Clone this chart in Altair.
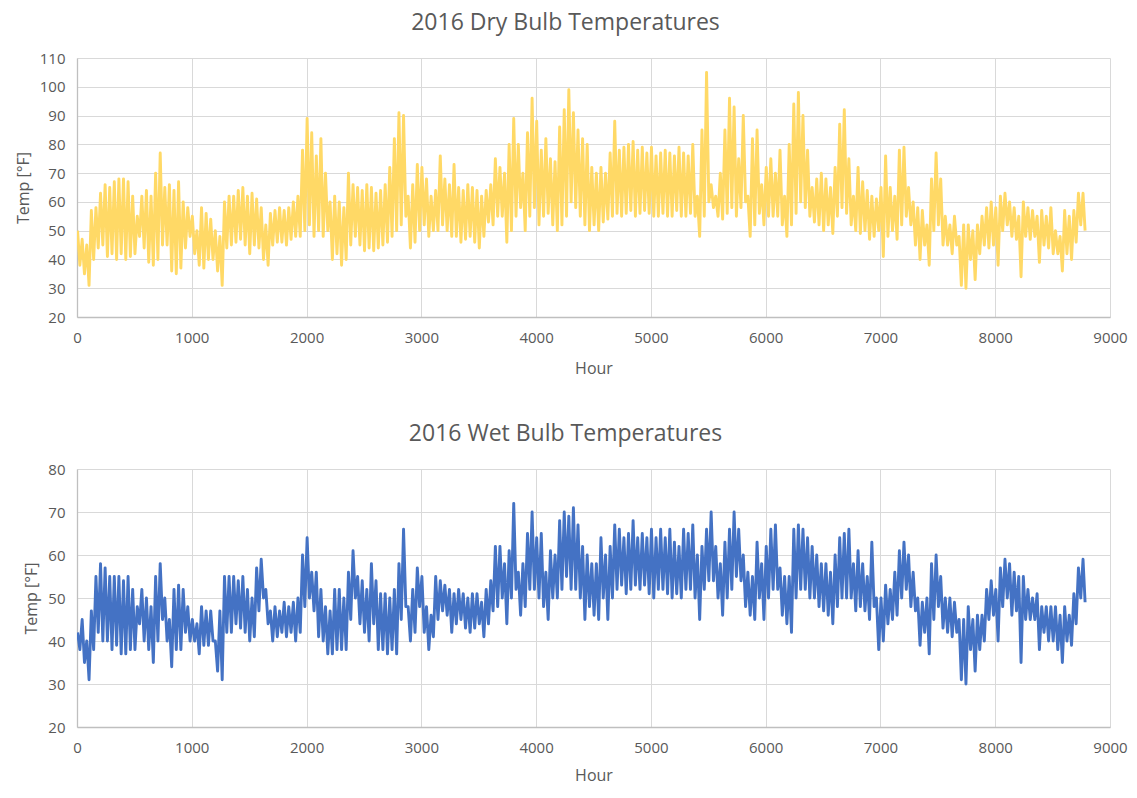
import altair as alt
import pandas as pd

# Band: for each 40-hour window (starting at hour 0, 40, 80, ...)
# the upper and lower temperature of the hourly trace [°F].
window_start = list(range(0, 8761, 40))

dry_hi = [
    50, 47, 45, 57, 58, 63, 66, 65, 67, 68,
    68, 67, 62, 55, 62, 64, 62, 70, 77, 65,
    66, 64, 67, 60, 58, 55, 50, 58, 56, 54,
    50, 48, 60, 62, 62, 64, 65, 62, 63, 61,
    58, 52, 56, 57, 58, 57, 58, 60, 62, 78,
    89, 84, 76, 82, 70, 60, 62, 60, 58, 70,
    66, 65, 64, 66, 65, 63, 64, 66, 72, 82,
    91, 90, 62, 66, 73, 72, 68, 62, 64, 76,
    68, 66, 73, 65, 64, 66, 65, 64, 62, 64,
    66, 75, 72, 70, 80, 89, 80, 70, 84, 96,
    88, 78, 82, 75, 74, 86, 92, 99, 91, 85,
    82, 80, 72, 70, 72, 70, 77, 88, 78, 79,
    80, 81, 78, 79, 77, 79, 76, 77, 78, 77,
    76, 79, 77, 76, 80, 62, 85, 105, 66, 62,
    70, 85, 96, 93, 75, 90, 62, 82, 85, 66,
    72, 75, 70, 78, 62, 80, 94, 98, 90, 78,
    65, 68, 70, 68, 65, 72, 87, 92, 75, 62,
    72, 67, 64, 62, 61, 65, 76, 65, 62, 78,
    79, 65, 60, 58, 57, 52, 68, 77, 68, 55,
    52, 55, 48, 52, 52, 50, 52, 55, 58, 60,
    58, 62, 63, 60, 58, 55, 60, 58, 57, 55,
    57, 55, 58, 50, 48, 57, 55, 57, 63, 63,
]
dry_lo = [
    38, 35, 31, 40, 44, 45, 41, 42, 40, 42,
    40, 41, 42, 48, 44, 39, 38, 40, 45, 45,
    36, 35, 37, 44, 48, 42, 38, 37, 40, 40,
    36, 31, 44, 45, 46, 47, 45, 42, 45, 44,
    40, 38, 45, 46, 46, 45, 47, 48, 48, 50,
    52, 48, 50, 48, 50, 40, 42, 38, 40, 45,
    48, 45, 43, 44, 43, 44, 45, 46, 48, 50,
    52, 55, 44, 46, 50, 52, 48, 50, 50, 52,
    50, 48, 48, 46, 47, 48, 46, 44, 48, 53,
    52, 55, 55, 46, 50, 55, 58, 50, 55, 58,
    52, 55, 56, 52, 50, 52, 55, 60, 58, 55,
    52, 50, 52, 50, 53, 54, 55, 56, 55, 56,
    57, 55, 56, 57, 56, 55, 55, 56, 55, 55,
    57, 55, 55, 56, 55, 48, 55, 60, 58, 55,
    54, 56, 58, 55, 58, 60, 48, 52, 56, 52,
    55, 55, 55, 52, 48, 52, 56, 60, 58, 55,
    53, 52, 50, 52, 49, 55, 58, 56, 52, 50,
    49, 50, 47, 48, 50, 41, 48, 50, 47, 52,
    55, 52, 45, 40, 45, 38, 50, 52, 45, 45,
    42, 45, 31, 30, 40, 33, 42, 45, 44, 45,
    38, 50, 52, 48, 47, 34, 48, 47, 48, 39,
    45, 44, 42, 42, 36, 42, 40, 46, 52, 50,
]

wet_hi = [
    42, 45, 40, 47, 55, 58, 57, 55, 55, 55,
    54, 55, 52, 48, 52, 50, 48, 55, 58, 50,
    45, 52, 53, 52, 48, 45, 44, 48, 47, 47,
    40, 47, 55, 55, 55, 54, 55, 52, 50, 57,
    59, 52, 47, 48, 47, 49, 48, 49, 50, 60,
    64, 56, 56, 52, 48, 47, 52, 52, 50, 56,
    61, 55, 54, 52, 58, 54, 51, 51, 50, 52,
    58, 66, 48, 52, 57, 55, 48, 46, 55, 54,
    53, 52, 51, 52, 51, 50, 51, 51, 49, 52,
    54, 62, 62, 58, 61, 72, 56, 58, 65, 70,
    64, 65, 56, 61, 60, 68, 70, 69, 71, 67,
    62, 60, 58, 58, 64, 60, 62, 67, 66, 64,
    65, 68, 64, 65, 64, 66, 64, 66, 64, 66,
    63, 62, 66, 65, 67, 60, 62, 66, 70, 62,
    58, 63, 66, 70, 66, 60, 56, 55, 63, 58,
    62, 66, 67, 57, 55, 55, 66, 67, 66, 64,
    62, 60, 58, 58, 56, 60, 64, 65, 66, 58,
    61, 58, 55, 63, 50, 50, 53, 52, 56, 61,
    63, 60, 56, 50, 49, 50, 58, 60, 55, 50,
    50, 49, 45, 45, 48, 45, 46, 46, 52, 54,
    52, 57, 59, 58, 56, 55, 55, 52, 50, 51,
    48, 48, 48, 48, 46, 48, 46, 51, 57, 59,
]
wet_lo = [
    38, 35, 31, 38, 42, 40, 40, 38, 39, 37,
    37, 38, 38, 44, 40, 38, 35, 40, 45, 40,
    34, 38, 38, 42, 40, 40, 37, 39, 39, 40,
    33, 31, 42, 42, 44, 43, 42, 40, 41, 47,
    50, 44, 40, 41, 42, 41, 42, 40, 42, 48,
    50, 47, 41, 40, 37, 37, 38, 38, 38, 45,
    50, 44, 42, 40, 44, 38, 38, 37, 38, 37,
    45, 48, 40, 42, 48, 42, 38, 41, 45, 47,
    46, 42, 44, 45, 43, 42, 43, 44, 41, 44,
    47, 48, 50, 44, 50, 52, 46, 48, 52, 52,
    50, 48, 45, 50, 50, 52, 55, 52, 52, 50,
    45, 48, 46, 45, 50, 45, 50, 52, 53, 51,
    52, 53, 52, 53, 51, 50, 52, 52, 51, 50,
    51, 50, 52, 52, 50, 45, 52, 54, 54, 50,
    46, 50, 52, 55, 54, 48, 46, 45, 50, 45,
    50, 52, 52, 46, 44, 42, 50, 52, 52, 50,
    50, 48, 47, 46, 44, 48, 50, 50, 50, 47,
    48, 47, 45, 48, 38, 40, 44, 45, 46, 50,
    52, 48, 47, 39, 42, 37, 45, 48, 43, 42,
    41, 42, 31, 30, 38, 33, 38, 40, 45, 46,
    40, 48, 50, 46, 47, 35, 45, 45, 45, 38,
    42, 40, 40, 38, 35, 40, 39, 44, 50, 49,
]

x_ticks = [0, 1000, 2000, 3000, 4000, 5000, 6000, 7000, 8000, 9000]
dry_ticks = [20, 30, 40, 50, 60, 70, 80, 90, 100, 110]
wet_ticks = [20, 30, 40, 50, 60, 70, 80]


def trace(hi, lo):
    rows = []
    for h0, a, b in zip(window_start, hi, lo):
        rows.append({"Hour": min(h0 + 5, 8783), "Temp": a})
        rows.append({"Hour": min(h0 + 25, 8783), "Temp": b})
    return pd.DataFrame(rows)


dry_df = trace(dry_hi, dry_lo)
wet_df = trace(wet_hi, wet_lo)

FONT = "Open Sans"
TXT = "#595959"


def panel(df, title, color, ymin, ymax, yticks, width, height, title_dx, xtitle_pad):
    x_axis = alt.Axis(values=x_ticks, title="Hour", grid=True, tickSize=0,
                      labelPadding=13, titlePadding=xtitle_pad, format="d",
                      labelFlush=False)
    y_axis = alt.Axis(values=yticks, title="Temp [°F]", grid=True, tickSize=0,
                      labelPadding=12, titlePadding=8, format="d",
                      labelFlush=False)
    return alt.Chart(df, title=alt.TitleParams(
        title, fontSize=23, font=FONT, color=TXT, fontWeight="normal",
        anchor="middle", offset=16, dx=title_dx)).mark_line(
        color=color, strokeWidth=2.9, strokeJoin="round", clip=True
    ).encode(
        x=alt.X("Hour:Q", scale=alt.Scale(domain=[0, 9000], nice=False), axis=x_axis),
        y=alt.Y("Temp:Q", scale=alt.Scale(domain=[ymin, ymax], nice=False, zero=False), axis=y_axis),
    ).properties(width=width, height=height)


top = panel(dry_df, "2016 Dry Bulb Temperatures", "#FFD966", 20, 110, dry_ticks,
            1033, 259, -28, 15)
bottom = panel(wet_df, "2016 Wet Bulb Temperatures", "#4472C4", 20, 80, wet_ticks,
               1033, 258, -28, 12)

chart = alt.concat(top, bottom, columns=1, spacing=47, align="none").properties(
    padding={"left": 7, "top": 4, "right": 0, "bottom": 1}
).configure_view(stroke=None).configure_axis(
    labelFont=FONT, labelFontSize=15, labelColor=TXT,
    titleFont=FONT, titleFontSize=16, titleColor=TXT, titleFontWeight="normal",
    gridColor="#D9D9D9", gridWidth=1, domainColor="#BFBFBF", domainWidth=1.3,
)

chart.save("out.html", embed_options={"renderer": "svg", "actions": False})
